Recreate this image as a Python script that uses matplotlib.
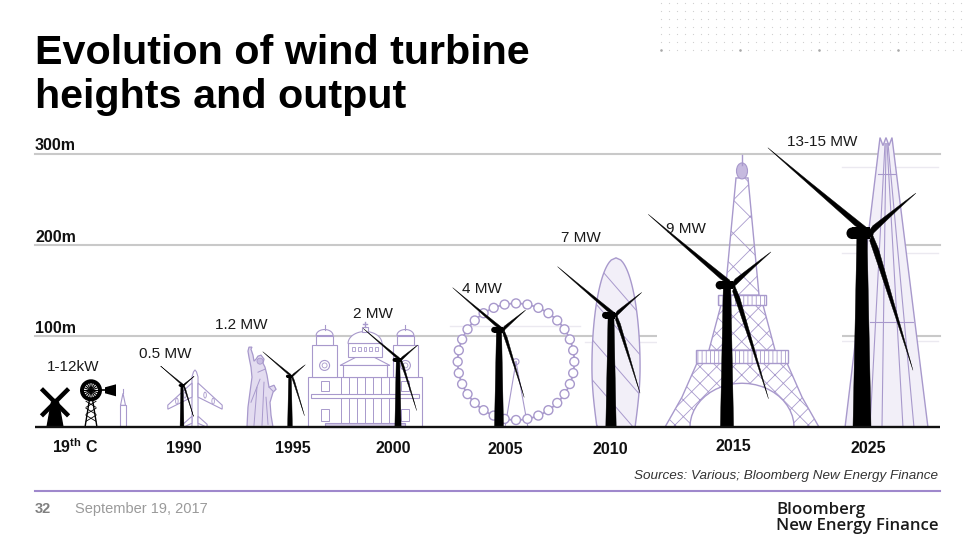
import numpy as np
import matplotlib
matplotlib.use("Agg")
import matplotlib.pyplot as plt
from matplotlib.patches import Polygon, Rectangle, Circle, Ellipse

plt.rcParams['font.family'] = ['Liberation Sans', 'DejaVu Sans']
plt.rcParams['mathtext.fontset'] = 'custom'
plt.rcParams['mathtext.rm'] = 'Liberation Sans'
plt.rcParams['mathtext.bf'] = 'Liberation Sans:bold'
plt.rcParams['hatch.linewidth'] = 0.6

# ---- data ----
eras = [r"19$^{\mathbf{th}}$ C", "1990", "1995", "2000", "2005", "2010", "2015", "2025"]
outputs = ["1-12kW", "0.5 MW", "1.2 MW", "2 MW", "4 MW", "7 MW", "9 MW", "13-15 MW"]
hub_height_m = [None, 46, 56, 74, 107, 123, 156, 213]
rotor_radius_m = [None, 33, 42, 54, 72, 83, 121, 146]

landmarks = ["Statue of Liberty", "St Paul's", "London Eye", "Gherkin", "Eiffel Tower", "The Shard"]
landmark_height_m = [88, 115, 136, 186, 299, 318]

grid_m = [100, 200, 300]
grid_labels = ["100m", "200m", "300m"]

# ---- layout (pixels on the 972x540 slide) ----
S = 0.911          # px per metre
BASE = 427.3       # ground line, px from top
turbine_px = [55, 182, 290, 398, 499, 611, 727, 862]
era_lbl_px = [(75, 453), (184, 453), (293, 453), (393, 453), (505, 454), (610, 454), (733, 451), (868, 453)]
mw_lbl_px = [(73, 371), (165, 358), (241, 329), (373, 318), (482, 293), (581, 242), (686, 233), (822, 146)]
landmark_px = [260, 365, 516, 616, 742, 886]

BLADE_ANG = [140, 41, -72.5]
BLADE_LEN = [1.0, 0.46, 1.08]

EDGE = '#a899cc'
FILL = '#f2eff8'


def X(px):
    return px / S


def Y(py):
    return (BASE - py) / S


fig = plt.figure(figsize=(9.72, 5.4), dpi=100)
ax = fig.add_axes([0, 0, 1, 1])
ax.set_xlim(0, 972 / S)
ax.set_ylim(-(540 - BASE) / S, BASE / S)
ax.axis('off')


def loc(pts, x0, k):
    return [(x0 + a * k, b * k) for a, b in pts]


def poly(pts, x0, k, fc='white', ec=EDGE, lw=0.8, z=2, **kw):
    p = Polygon(loc(pts, x0, k), closed=True, fc=fc, ec=ec, lw=lw, zorder=z, **kw)
    ax.add_patch(p)
    return p


def rect(x0, k, a, b, w, h, fc='white', ec=EDGE, lw=0.8, z=2, **kw):
    ax.add_patch(Rectangle((x0 + a * k, b * k), w * k, h * k, fc=fc, ec=ec, lw=lw, zorder=z, **kw))


def seg(x0, k, a, b, c, d, lw=0.7):
    ax.plot([x0 + a * k, x0 + c * k], [b * k, d * k], color=EDGE, lw=lw, zorder=2)


# ---- landmarks ----
def statue(x0, h):
    k = h / 80
    pts = [(-13, 0), (13, 0), (11, 12), (10, 25), (13, 35), (16, 38), (14, 42), (9, 40), (7, 52),
           (5, 60), (3, 64), (4, 68), (1, 72), (-2, 71), (-4, 68), (-6, 66), (-7, 72), (-9, 78),
           (-8, 80), (-11, 80), (-12, 76), (-11, 70), (-9, 60), (-8, 50), (-10, 35), (-12, 20)]
    poly(pts, x0, k, fc='#e3dcf0', ec=EDGE, lw=0.9)
    for a, b, c, d in [(-6, 2, -3, 40), (2, 2, 4, 45), (8, 3, 6, 30), (-9, 25, 0, 48),
                       (-2, 55, 5, 58), (9, 40, 13, 36)]:
        seg(x0, k, a, b, c, d, lw=0.7)
    ax.add_patch(Circle((x0, 66 * k), 3 * k, fc='#c9bde2', ec=EDGE, lw=0.6, zorder=2))


def st_pauls(x0, h):
    k = h / 105
    rect(x0, k, -57, 0, 114, 50)
    rect(x0, k, -54, 29, 108, 4)
    rect(x0, k, -40, 0, 80, 4, fc='#d2c8e6')
    for c in np.arange(-24, 25, 8):
        seg(x0, k, c, 5, c, 29)
        seg(x0, k, c, 34, c, 49)
    rect(x0, k, -22, 50, 44, 12)
    poly([(-25, 62), (25, 62), (0, 75)], x0, k)
    rect(x0, k, -17, 70, 34, 14)
    for c in np.arange(-12, 13, 6):
        rect(x0, k, c - 1.5, 76, 3, 4, lw=0.6)
    t = np.linspace(0, np.pi, 30)
    poly(list(zip(17 * np.cos(t), 84 + 12 * np.sin(t))), x0, k)
    rect(x0, k, -3, 96, 6, 5)
    seg(x0, k, 0, 101, 0, 106, lw=1)
    seg(x0, k, -2.5, 103.5, 2.5, 103.5, lw=1)
    for s in (-1, 1):
        cx = s * 40.5
        rect(x0, k, cx - 12.5, 50, 25, 32)
        ax.add_patch(Circle((x0 + cx * k, 62 * k), 5 * k, fc='white', ec=EDGE, lw=0.8, zorder=2))
        ax.add_patch(Circle((x0 + cx * k, 62 * k), 2.5 * k, fc='white', ec=EDGE, lw=0.6, zorder=2))
        rect(x0, k, cx - 8.5, 82, 17, 10)
        poly(list(zip(cx + 8.5 * np.cos(t), 92 + 6 * np.sin(t))), x0, k)
        seg(x0, k, cx, 98, cx, 103, lw=0.8)
        rect(x0, k, cx - 4, 6, 8, 12, lw=0.7)
        rect(x0, k, cx - 4, 36, 8, 10, lw=0.7)


def london_eye(x0, h):
    k = h / 124.3
    cy, R = 65.8, 58.5
    seg(x0, k, 0, cy, -11, 0, lw=0.8)
    seg(x0, k, 0, cy, 12, 0, lw=0.8)
    ax.add_patch(Circle((x0, cy * k), R * k, fc='none', ec=EDGE, lw=1.3, zorder=2))
    ax.add_patch(Circle((x0, cy * k), 3 * k, fc='none', ec=EDGE, lw=0.8, zorder=2))
    for a in np.linspace(0, 2 * np.pi, 33)[:-1]:
        ax.add_patch(Circle((x0 + R * k * np.cos(a), (cy + R * np.sin(a)) * k), 4.5 * k,
                            fc='white', ec=EDGE, lw=1.0, zorder=2))


def gherkin(x0, h):
    k = h / 169
    ys = np.linspace(0, 169, 80)
    hw = np.where(ys < 60, 19 + 5 * np.sin(np.pi / 2 * ys / 60),
                  24 * np.sqrt(np.clip(1 - ((ys - 60) / 109) ** 2, 0, 1)))
    pts = list(zip(hw, ys)) + list(zip(-hw[::-1], ys[::-1]))
    p = poly(pts, x0, k, fc=FILL, ec=EDGE, lw=1.0)
    for y0 in [10, 50, 90, 130, 170, 210]:
        ln, = ax.plot([x0 - 26 * k, x0 + 26 * k], [y0 * k, (y0 - 60) * k], color=EDGE, lw=0.7, zorder=2)
        ln.set_clip_path(p)


def eiffel(x0, h):
    k = h / 272
    t = np.linspace(0, np.pi, 25)
    arch = list(zip(52 * np.cos(t), 44 * np.sin(t)))
    lower = [(-77, 0), (-60, 30), (-45, 64), (45, 64), (60, 30), (77, 0)] + arch + [(-52, 0)]
    poly(lower, x0, k, fc='none', hatch='xx', lw=1.0)
    rect(x0, k, -46, 64, 92, 13, fc='white', hatch='||||', lw=1.0)
    poly([(-33, 77), (33, 77), (21, 122), (-21, 122)], x0, k, fc='none', hatch='xx', lw=1.0)
    rect(x0, k, -24, 122, 48, 10, fc='white', hatch='||||', lw=1.0)
    poly([(-17, 132), (17, 132), (6, 249), (-6, 249)], x0, k, fc='none', hatch='x', lw=1.0)
    ax.add_patch(Ellipse((x0, 256 * k), 11 * k, 16 * k, fc='#c6badf', ec=EDGE, lw=0.8, zorder=2))
    seg(x0, k, 0, 262, 0, 272, lw=1.0)


def shard(x0, h):
    k = h / 290
    pts = [(-41, 0), (-6, 290), (-3, 282), (0, 290), (3, 282), (6, 290), (42, 0)]
    poly(pts, x0, k, fc=FILL, ec=EDGE, lw=1.0)
    for a, b in [(-16, -1), (-4, 0), (17, 1), (28, 2)]:
        seg(x0, k, a, 0, b, 284, lw=0.8)
    seg(x0, k, -8, 254, 9, 254, lw=0.8)
    seg(x0, k, -16, 105, 27, 105, lw=0.8)


def airplane(x0, h):
    k = h / 57
    poly([(-3, 0), (3, 0), (3, 50), (1.5, 55), (0, 57), (-1.5, 55), (-3, 50)], x0, k)
    for s in (-1, 1):
        poly([(s * 3, 44), (s * 27, 22), (s * 27, 18), (s * 3, 30)], x0, k)
        poly([(s * 3, 11), (s * 12, 3), (s * 12, 0), (s * 3, 4)], x0, k)
        for e, ey in [(10, 32), (18, 26)]:
            ax.add_patch(Ellipse((x0 + s * e * k, ey * k), 2.5 * k, 6 * k, fc='white', ec=EDGE,
                                 lw=0.6, zorder=2))


# white backing of the tower picture hides the 100m line there
ax.add_patch(Rectangle((X(657), 0), (842 - 657) / S, 140, fc='white', ec='none', zorder=1.6))

airplane(X(195), 63)
draw_fns = [statue, st_pauls, london_eye, gherkin, eiffel, shard]
for fn, px, hm in zip(draw_fns, landmark_px, landmark_height_m):
    fn(X(px), hm)

# faint picture frames
for y, a, b in [(326, 450, 580), (342, 585, 657), (167, 842, 938), (253, 842, 938), (341, 842, 938)]:
    ax.plot([X(a), X(b)], [Y(y)] * 2, color='#ebe9f0', lw=1.0, zorder=1.4)

# ---- grid and ground ----
for g, lbl in zip(grid_m, grid_labels):
    ax.plot([X(35), X(940)], [g, g], color='#c9c9c9', lw=1.5, zorder=1.5)
    ax.text(X(35), g + 3.5 / S, lbl, fontsize=11.5, fontweight='bold', ha='left', va='baseline',
            color='#111111')
ax.plot([X(35), X(940)], [0, 0], color='#111111', lw=1.7, zorder=6, solid_capstyle='butt')


# ---- old windmills ----
def old_mills(x0):
    u = 1 / S
    ax.add_patch(Polygon([(x0 - 8 * u, 0), (x0 + 8 * u, 0), (x0 + 3.5 * u, 25 * u), (x0 - 3.5 * u, 25 * u)],
                         fc='black', ec='black', zorder=5))
    ax.add_patch(Circle((x0, 25 * u), 3.5 * u, fc='black', zorder=5))
    ax.plot([x0 - 12 * u, x0 + 12 * u], [37 * u, 13 * u], color='black', lw=3.2, zorder=5)
    ax.plot([x0 - 12 * u, x0 + 12 * u], [13 * u, 37 * u], color='black', lw=3.2, zorder=5)
    # american windpump
    xa = x0 + 36 * u
    for s in (-1, 1):
        ax.plot([xa + s * 1.5 * u, xa + s * 6 * u], [28 * u, 0], color='black', lw=1.0, zorder=5)
    for yy in [6, 13, 20]:
        ax.plot([xa - 5 * u, xa + 5 * u], [yy * u, (yy + 6) * u], color='black', lw=0.6, zorder=5)
        ax.plot([xa + 5 * u, xa - 5 * u], [yy * u, (yy + 6) * u], color='black', lw=0.6, zorder=5)
    ax.plot([xa, xa + 20 * u], [37 * u, 37 * u], color='black', lw=1.2, zorder=5)
    ax.add_patch(Polygon([(xa + 14 * u, 34 * u), (xa + 25 * u, 31 * u), (xa + 25 * u, 43 * u),
                          (xa + 14 * u, 40 * u)], fc='black', zorder=5))
    ax.add_patch(Circle((xa, 37 * u), 11 * u, fc='black', zorder=5))
    ax.add_patch(Circle((xa, 37 * u), 7 * u, fc='white', zorder=5))
    for a in np.linspace(0, 2 * np.pi, 19)[:-1]:
        ax.plot([xa, xa + 10 * u * np.cos(a)], [37 * u, 37 * u + 10 * u * np.sin(a)], color='black',
                lw=0.8, zorder=5)
    # small chapel
    xc = x0 + 68 * u
    ax.add_patch(Rectangle((xc - 3 * u, 0), 6 * u, 22 * u, fc='white', ec=EDGE, lw=0.8, zorder=2))
    ax.add_patch(Polygon([(xc - 2.5 * u, 22 * u), (xc + 2.5 * u, 22 * u), (xc, 34 * u)], fc='white',
                         ec=EDGE, lw=0.8, zorder=2))
    ax.plot([xc, xc], [34 * u, 38 * u], color=EDGE, lw=0.8, zorder=2)


old_mills(X(turbine_px[0]))


# ---- modern turbines ----
def blade(hx, hy, ang, L, w):
    d = np.array([np.cos(np.radians(ang)), np.sin(np.radians(ang))])
    n = np.array([-d[1], d[0]])
    prof = [(0, 0.3), (0.12, 0.55), (0.35, 0.42), (0.75, 0.18), (1.0, 0.0), (0.6, -0.1),
            (0.25, -0.25), (0.05, -0.35)]
    pts = [(hx + d[0] * t * L + n[0] * s * w, hy + d[1] * t * L + n[1] * s * w) for t, s in prof]
    ax.add_patch(Polygon(pts, closed=True, fc='black', ec='black', lw=0.3, zorder=5))


def turbine(x, H, R):
    wb, wt = 0.093 * H, 0.052 * H
    ax.add_patch(Polygon([(x - wb / 2, 0), (x + wb / 2, 0), (x + wt / 2, H), (x - wt / 2, H)],
                         fc='black', ec='black', lw=0.3, zorder=5))
    hx, hy = x + 0.04 * H, H
    ax.add_patch(Rectangle((hx - 0.09 * H, hy - 0.03 * H), 0.09 * H, 0.06 * H, fc='black', zorder=5))
    ax.add_patch(Circle((hx - 0.09 * H, hy), 0.03 * H, fc='black', zorder=5))
    for ang, f in zip(BLADE_ANG, BLADE_LEN):
        blade(hx, hy, ang, R * f, 0.05 * R)
    ax.add_patch(Circle((hx, hy), 0.02 * H, fc='black', zorder=5))


for px, H, R in zip(turbine_px[1:], hub_height_m[1:], rotor_radius_m[1:]):
    turbine(X(px), H, R)

# ---- labels ----
for lbl, (px, py) in zip(eras, era_lbl_px):
    ax.text(X(px), Y(py), lbl, fontsize=11.5, fontweight='bold', ha='center', va='baseline',
            color='#111111', zorder=7)
for lbl, (px, py) in zip(outputs, mw_lbl_px):
    ax.text(X(px), Y(py), lbl, fontsize=11, ha='center', va='baseline', color='#1a1a1a', zorder=7)

# ---- slide furniture ----
ax.text(X(35), Y(64), "Evolution of wind turbine", fontsize=29.7, fontweight='bold', ha='left',
        va='baseline', color='black')
ax.text(X(35), Y(108), "heights and output", fontsize=29.7, fontweight='bold', ha='left',
        va='baseline', color='black')

ax.text(X(938), Y(479), "Sources: Various; Bloomberg New Energy Finance", fontsize=9.7,
        style='italic', ha='right', va='baseline', color='#333333')
ax.plot([X(35), X(940)], [Y(491)] * 2, color='#9f88cc', lw=1.5)
ax.text(X(35), Y(513), "32", fontsize=10.5, fontweight='bold', ha='left', va='baseline', color='#808080')
ax.text(X(75), Y(513), "September 19, 2017", fontsize=10.5, ha='left', va='baseline', color='#9a9a9a')
ax.text(X(776), Y(514), "Bloomberg", fontsize=12.1, fontweight='semibold', ha='left', va='baseline',
        color='#1a1a1a', family=['Open Sans', 'DejaVu Sans'])
ax.text(X(776), Y(530), "New Energy Finance", fontsize=12.1, fontweight='semibold', ha='left',
        va='baseline', color='#1a1a1a', family=['Open Sans', 'DejaVu Sans'])

# dot pattern top right
dot_x = 661 + 7.9 * np.arange(39)
dot_y = [3.5, 11.3, 19, 26.8, 34.5, 42.3, 50]
for dy in dot_y:
    ax.scatter([X(v) for v in dot_x], [Y(dy)] * len(dot_x), s=0.8, color='#d0d0d0', lw=0, zorder=1)
big = dot_x[::10]
ax.scatter([X(v) for v in big], [Y(50)] * len(big), s=3.5, color='#a8a8a8', lw=0, zorder=1)

fig.savefig("out.png", dpi=100)
